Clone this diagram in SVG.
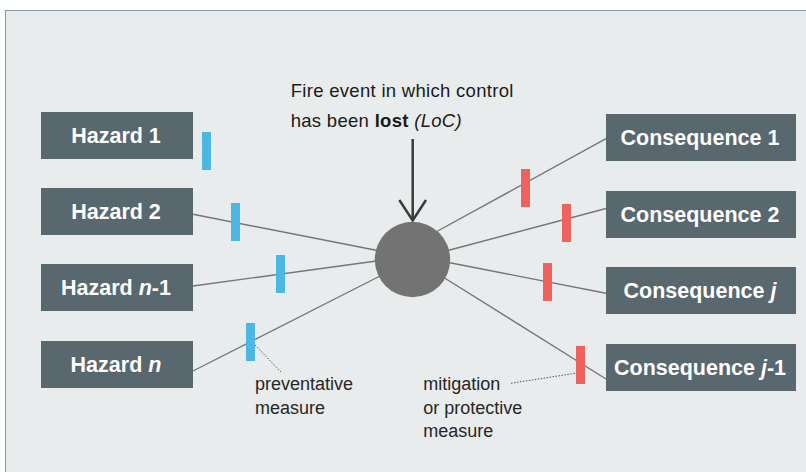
<svg xmlns="http://www.w3.org/2000/svg" width="806" height="472" viewBox="0 0 806 472">
<defs>
<style>
.box{fill:#59676e}
.bt{fill:#ffffff;font-family:"Liberation Sans",Arial,sans-serif;font-weight:bold;font-size:21.5px;text-anchor:middle}
.conn{stroke:#767676;stroke-width:1.4;fill:none}
.blue{fill:#4db7e3}
.red{fill:#ef625d}
.lbl{fill:#262626;font-family:"Liberation Sans",Arial,sans-serif;font-size:18px}
.lead{stroke:#555;stroke-width:1;stroke-dasharray:1.5 1.5;fill:none}
</style>
</defs>
<rect x="0" y="0" width="806" height="472" fill="#ffffff"/>
<rect x="5.5" y="10.5" width="830" height="480" fill="#e9eced" stroke="#8d9ba5" stroke-width="1"/>

<g id="connectors">
<line class="conn" x1="193" y1="214.3" x2="380" y2="251"/>
<line class="conn" x1="193" y1="286" x2="380" y2="260.5"/>
<line class="conn" x1="193" y1="371" x2="382" y2="275"/>
<line class="conn" x1="606" y1="138.7" x2="434" y2="233"/>
<line class="conn" x1="606" y1="208.5" x2="446" y2="251"/>
<line class="conn" x1="606" y1="293.3" x2="446" y2="262"/>
<line class="conn" x1="606" y1="379" x2="443" y2="277"/>
<line x1="412.7" y1="139" x2="412.7" y2="220" stroke="#3b3b3b" stroke-width="2.5"/>
<polyline points="399.3,200 412.7,220.5 426,200" stroke="#3b3b3b" stroke-width="2.5" fill="none" stroke-linejoin="miter"/>
<line class="lead" x1="255" y1="345" x2="281" y2="372"/>
<line class="lead" x1="511" y1="383.3" x2="575" y2="373.3"/>
</g>

<g id="bars">
<rect class="blue" x="202" y="132" width="9" height="38"/>
<rect class="blue" x="231" y="203" width="9" height="38"/>
<rect class="blue" x="276" y="255" width="9" height="38"/>
<rect class="blue" x="246" y="323" width="9" height="38"/>
<rect class="red" x="521" y="169" width="9" height="38"/>
<rect class="red" x="562" y="204" width="9" height="38"/>
<rect class="red" x="543" y="263" width="9" height="38"/>
<rect class="red" x="576" y="346" width="9" height="38"/>
</g>

<g id="loc">
<circle cx="412.5" cy="259.5" r="37.7" fill="#737374"/>
</g>

<g id="loc-label">
<text x="290.7" y="97.3" style="font-family:'Liberation Sans',Arial,sans-serif;font-size:18.5px;letter-spacing:0.3px;fill:#1a1a1a">Fire event in which control</text>
<text x="290.7" y="127.3" style="font-family:'Liberation Sans',Arial,sans-serif;font-size:18.5px;letter-spacing:0.3px;fill:#1a1a1a">has been <tspan font-weight="bold">lost</tspan> <tspan font-style="italic">(LoC)</tspan></text>
</g>

<g id="hazard1"><rect class="box" x="41" y="112" width="152" height="47"/><text class="bt" x="116" y="143">Hazard 1</text></g>
<g id="hazard2"><rect class="box" x="41" y="188" width="152" height="47"/><text class="bt" x="116" y="219">Hazard 2</text></g>
<g id="hazardn1"><rect class="box" x="41" y="264" width="152" height="47"/><text class="bt" x="116" y="295">Hazard <tspan font-style="italic">n</tspan>-1</text></g>
<g id="hazardn"><rect class="box" x="41" y="341" width="152" height="47"/><text class="bt" x="116" y="372">Hazard <tspan font-style="italic">n</tspan></text></g>

<g id="cons1"><rect class="box" x="606" y="114" width="190" height="47"/><text class="bt" x="700" y="145">Consequence 1</text></g>
<g id="cons2"><rect class="box" x="606" y="191" width="190" height="47"/><text class="bt" x="700" y="222">Consequence 2</text></g>
<g id="consj"><rect class="box" x="606" y="267" width="190" height="47"/><text class="bt" x="700" y="298">Consequence <tspan font-style="italic">j</tspan></text></g>
<g id="consj1"><rect class="box" x="606" y="344" width="190" height="47"/><text class="bt" x="700" y="375">Consequence <tspan font-style="italic">j</tspan>-1</text></g>

<g id="preventative-label">
<text class="lbl" x="255" y="390">preventative</text>
<text class="lbl" x="255" y="413.5">measure</text>
</g>
<g id="mitigation-label">
<text class="lbl" x="423.3" y="390">mitigation</text>
<text class="lbl" x="423.3" y="413.5">or protective</text>
<text class="lbl" x="423.3" y="437">measure</text>
</g>
</svg>
